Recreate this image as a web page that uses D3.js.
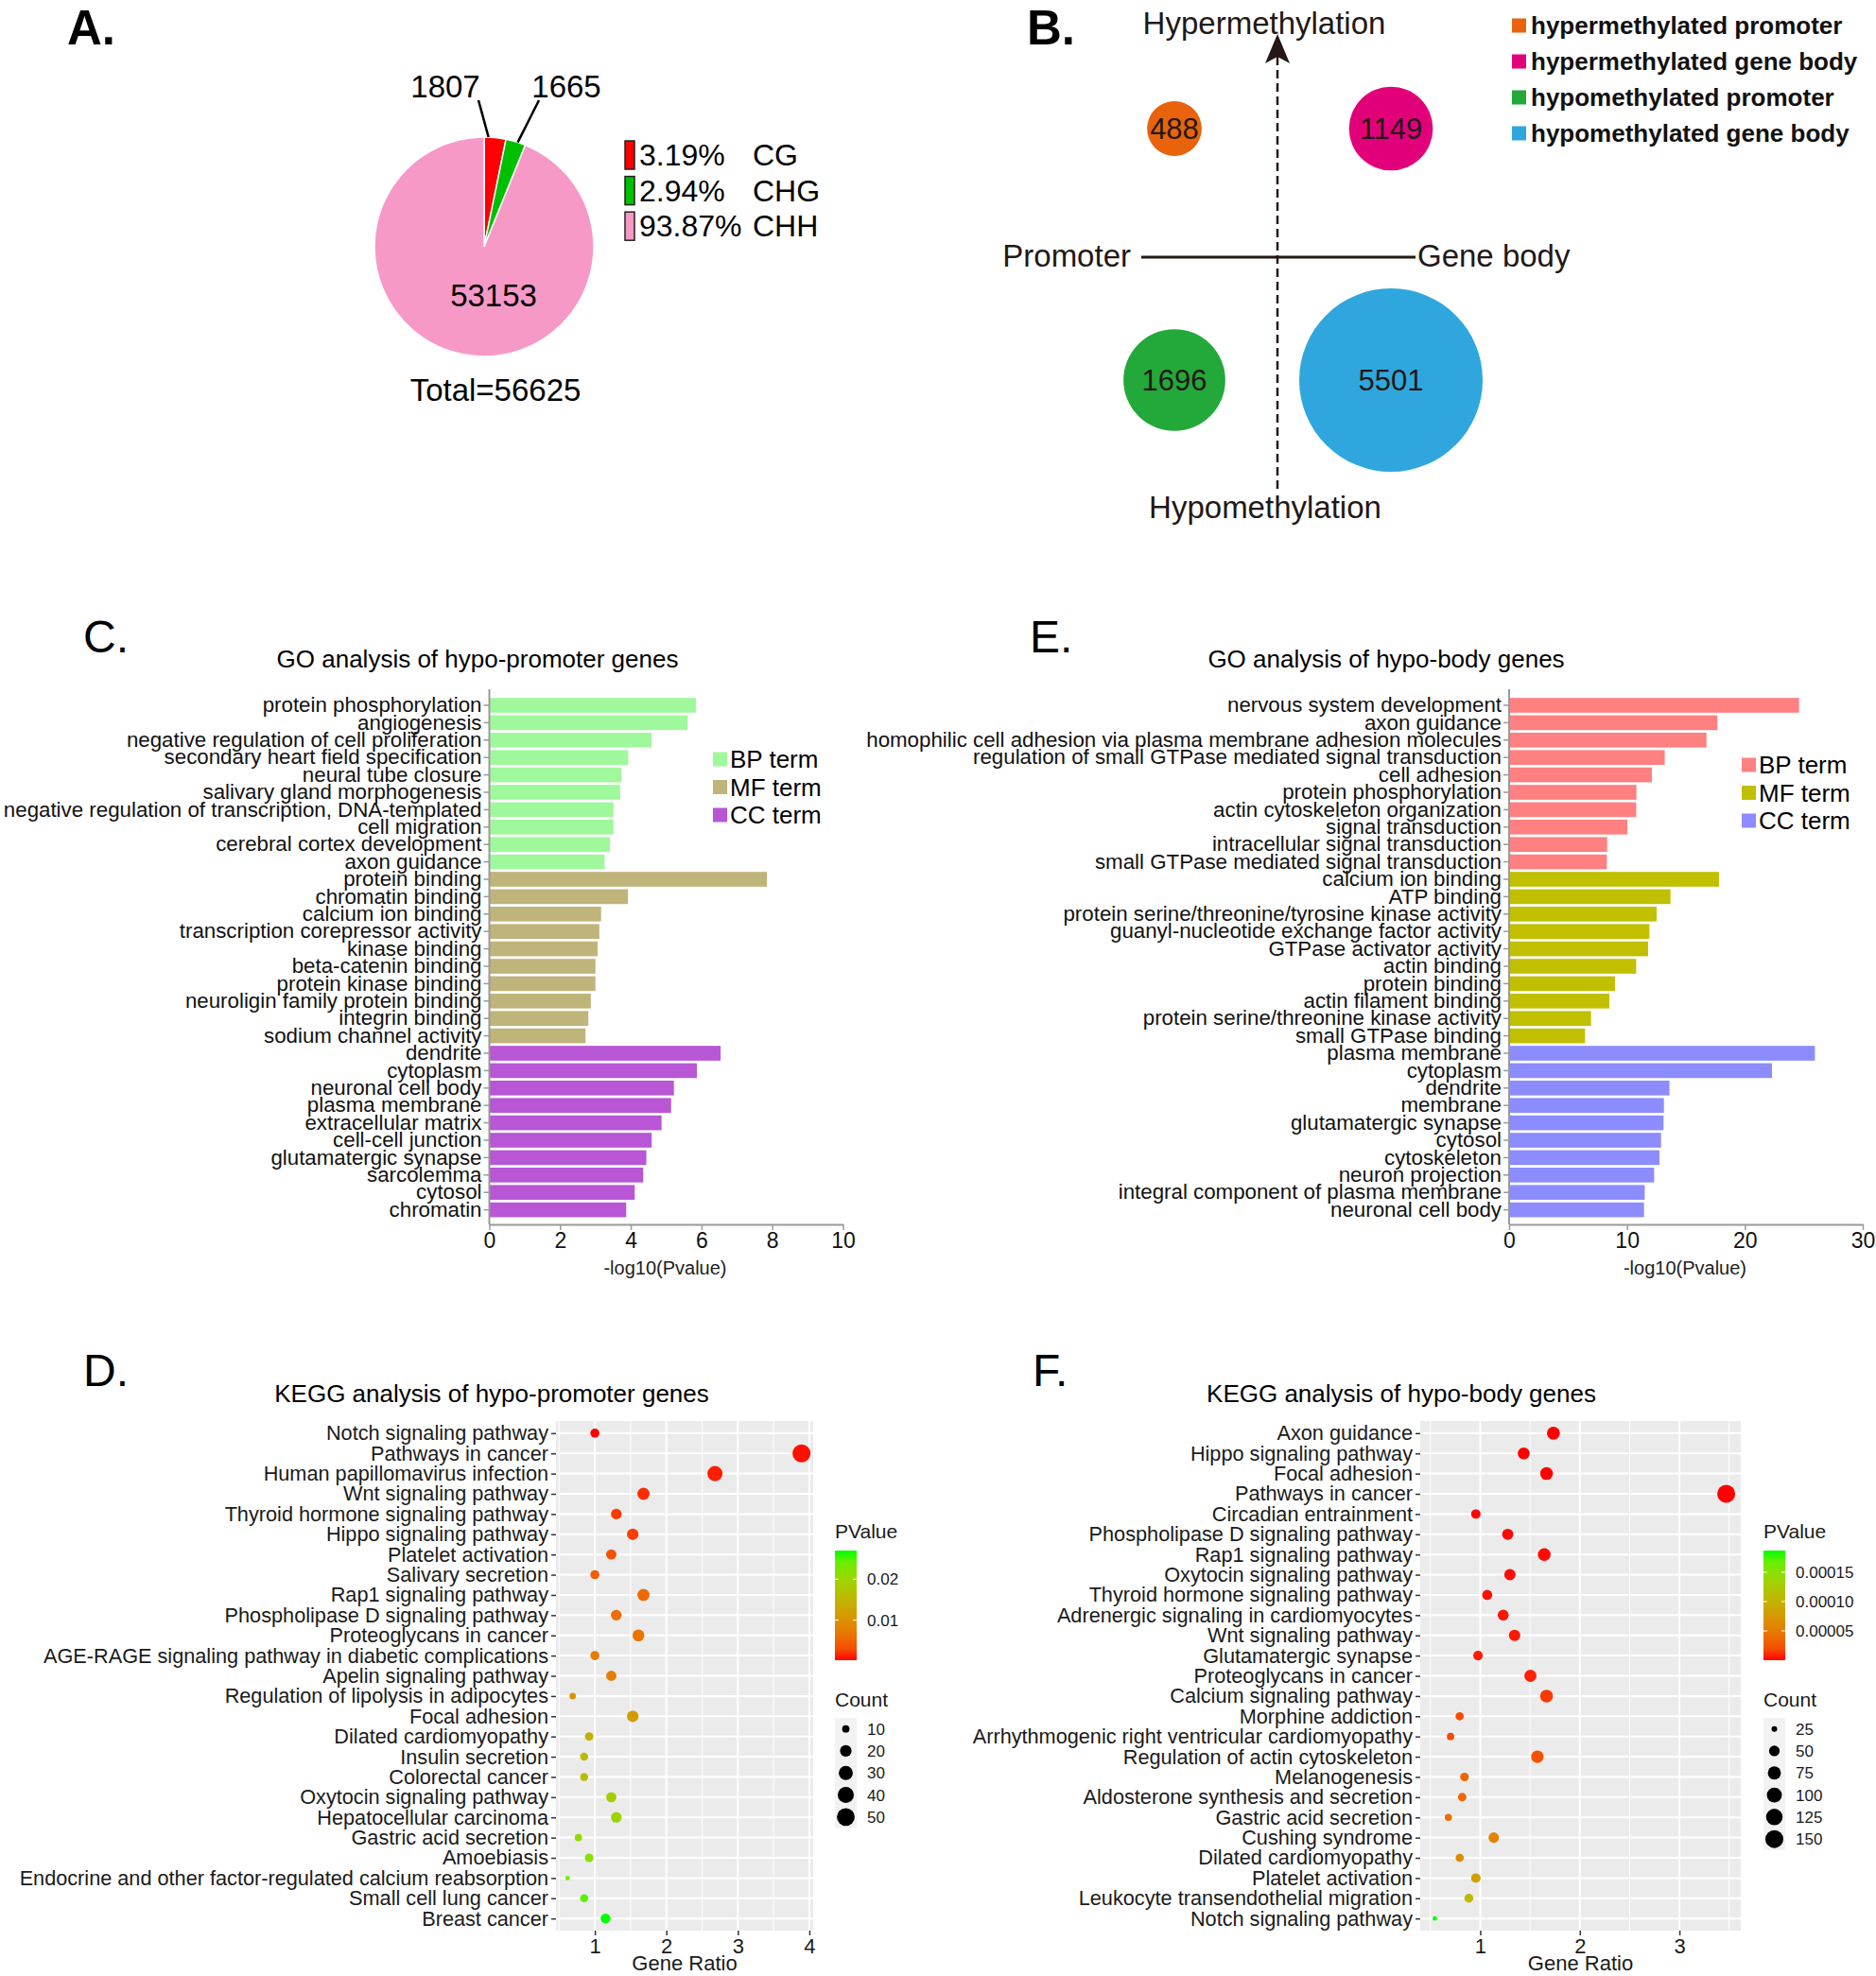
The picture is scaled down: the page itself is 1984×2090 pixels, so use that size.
<!DOCTYPE html>
<html>
<head>
<meta charset="utf-8">
<script src="https://cdn.jsdelivr.net/npm/d3@7"></script>
<style>
  body { margin: 0; background: #fff; }
</style>
</head>
<body>
<div id="figure"></div>
<script>
// ---------- data ----------
// A. methylation context
var contextNames = ["CG", "CHG", "CHH"];
var contextCounts = [1807, 1665, 53153];
var contextPercents = ["3.19%", "2.94%", "93.87%"];
var contextTotal = 56625;

// B. differentially methylated regions
var dmrNames = ["hypermethylated promoter", "hypermethylated gene body", "hypomethylated promoter", "hypomethylated gene body"];
var dmrRegion = ["Promoter", "Gene body", "Promoter", "Gene body"];
var dmrDirection = ["Hyper", "Hyper", "Hypo", "Hypo"];
var dmrCounts = [488, 1149, 1696, 5501];

// C. GO hypo-promoter
var goPromoterTerms = ["protein phosphorylation", "angiogenesis", "negative regulation of cell proliferation",
  "secondary heart field specification", "neural tube closure", "salivary gland morphogenesis",
  "negative regulation of transcription, DNA-templated", "cell migration", "cerebral cortex development",
  "axon guidance", "protein binding", "chromatin binding", "calcium ion binding",
  "transcription corepressor activity", "kinase binding", "beta-catenin binding", "protein kinase binding",
  "neuroligin family protein binding", "integrin binding", "sodium channel activity", "dendrite",
  "cytoplasm", "neuronal cell body", "plasma membrane", "extracellular matrix", "cell-cell junction",
  "glutamatergic synapse", "sarcolemma", "cytosol", "chromatin"];
var goPromoterValues = [5.84, 5.61, 4.59, 3.93, 3.73, 3.70, 3.51, 3.51, 3.41, 3.26,
  7.85, 3.92, 3.16, 3.11, 3.06, 3.00, 3.00, 2.87, 2.80, 2.72,
  6.54, 5.87, 5.22, 5.14, 4.87, 4.59, 4.44, 4.35, 4.11, 3.87];
var goPromoterCats = ["BP", "BP", "BP", "BP", "BP", "BP", "BP", "BP", "BP", "BP",
  "MF", "MF", "MF", "MF", "MF", "MF", "MF", "MF", "MF", "MF",
  "CC", "CC", "CC", "CC", "CC", "CC", "CC", "CC", "CC", "CC"];

// E. GO hypo-body
var goBodyTerms = ["nervous system development", "axon guidance",
  "homophilic cell adhesion via plasma membrane adhesion molecules",
  "regulation of small GTPase mediated signal transduction", "cell adhesion", "protein phosphorylation",
  "actin cytoskeleton organization", "signal transduction", "intracellular signal transduction",
  "small GTPase mediated signal transduction", "calcium ion binding", "ATP binding",
  "protein serine/threonine/tyrosine kinase activity", "guanyl-nucleotide exchange factor activity",
  "GTPase activator activity", "actin binding", "protein binding", "actin filament binding",
  "protein serine/threonine kinase activity", "small GTPase binding", "plasma membrane", "cytoplasm",
  "dendrite", "membrane", "glutamatergic synapse", "cytosol", "cytoskeleton", "neuron projection",
  "integral component of plasma membrane", "neuronal cell body"];
var goBodyValues = [24.6, 17.67, 16.74, 13.2, 12.11, 10.8, 10.78, 10.03, 8.32, 8.29,
  17.8, 13.69, 12.51, 11.9, 11.79, 10.78, 8.98, 8.5, 6.95, 6.44,
  25.94, 22.3, 13.6, 13.13, 13.1, 12.89, 12.75, 12.3, 11.5, 11.44];
var goBodyCats = goPromoterCats.slice();

var goLegendLabels = ["BP term", "MF term", "CC term"];

// D. KEGG hypo-promoter
var keggPromoterTerms = ["Notch signaling pathway", "Pathways in cancer", "Human papillomavirus infection",
  "Wnt signaling pathway", "Thyroid hormone signaling pathway", "Hippo signaling pathway",
  "Platelet activation", "Salivary secretion", "Rap1 signaling pathway", "Phospholipase D signaling pathway",
  "Proteoglycans in cancer", "AGE-RAGE signaling pathway in diabetic complications", "Apelin signaling pathway",
  "Regulation of lipolysis in adipocytes", "Focal adhesion", "Dilated cardiomyopathy", "Insulin secretion",
  "Colorectal cancer", "Oxytocin signaling pathway", "Hepatocellular carcinoma", "Gastric acid secretion",
  "Amoebiasis", "Endocrine and other factor-regulated calcium reabsorption", "Small cell lung cancer",
  "Breast cancer"];
var keggPromoterRatio = [1.0, 3.89, 2.68, 1.68, 1.30, 1.53, 1.23, 1.0, 1.68, 1.30,
  1.61, 1.0, 1.23, 0.69, 1.53, 0.92, 0.85, 0.85, 1.23, 1.30, 0.77, 0.92, 0.62, 0.85, 1.15];
var keggPromoterCount = [13, 51, 35, 22, 17, 20, 16, 13, 22, 17,
  21, 13, 16, 9, 20, 12, 11, 11, 16, 17, 10, 12, 8, 11, 15];
var keggPromoterP = [0.0002, 0.0004, 0.0007, 0.0012, 0.0019, 0.0022, 0.0034, 0.0044, 0.0055, 0.0058,
  0.0066, 0.0072, 0.0076, 0.0102, 0.0112, 0.0140, 0.0158, 0.0162, 0.0188, 0.0198,
  0.0210, 0.0220, 0.0232, 0.0248, 0.0270];
var keggPromoterSizeBreaks = [10, 20, 30, 40, 50];
var keggPromoterPBreaks = [0.01, 0.02];
var keggPromoterPLabels = ["0.01", "0.02"];

// F. KEGG hypo-body
var keggBodyTerms = ["Axon guidance", "Hippo signaling pathway", "Focal adhesion", "Pathways in cancer",
  "Circadian entrainment", "Phospholipase D signaling pathway", "Rap1 signaling pathway",
  "Oxytocin signaling pathway", "Thyroid hormone signaling pathway", "Adrenergic signaling in cardiomyocytes",
  "Wnt signaling pathway", "Glutamatergic synapse", "Proteoglycans in cancer", "Calcium signaling pathway",
  "Morphine addiction", "Arrhythmogenic right ventricular cardiomyopathy", "Regulation of actin cytoskeleton",
  "Melanogenesis", "Aldosterone synthesis and secretion", "Gastric acid secretion", "Cushing syndrome",
  "Dilated cardiomyopathy", "Platelet activation", "Leukocyte transendothelial migration",
  "Notch signaling pathway"];
var keggBodyRatio = [1.735, 1.437, 1.666, 3.47, 0.956, 1.276, 1.643, 1.298, 1.07, 1.231,
  1.345, 0.978, 1.504, 1.666, 0.794, 0.702, 1.574, 0.842, 0.819, 0.68, 1.136, 0.794, 0.956, 0.886, 0.544];
var keggBodyCount = [75, 62, 72, 150, 41, 55, 71, 56, 46, 53,
  58, 42, 65, 72, 34, 30, 68, 36, 35, 29, 49, 34, 41, 38, 24];
var keggBodyP = [1e-9, 2e-8, 5e-8, 1e-7, 3e-7, 5e-7, 8e-7, 1e-6, 1.5e-6, 2e-6,
  2.5e-6, 3e-6, 4e-6, 1.1e-5, 1.9e-5, 2.0e-5, 2.2e-5, 3.4e-5, 3.7e-5, 4.1e-5,
  5.6e-5, 6.2e-5, 7.9e-5, 1.08e-4, 1.87e-4];
var keggBodySizeBreaks = [25, 50, 75, 100, 125, 150];
var keggBodyPBreaks = [0.00005, 0.0001, 0.00015];
var keggBodyPLabels = ["0.00005", "0.00010", "0.00015"];

// ---------- setup ----------
var font = '"Liberation Sans", Arial, Helvetica, sans-serif';
var ink = "#231815";

var svg = d3.select("#figure")
  .append("svg")
  .attr("width", 1984)
  .attr("height", 2090)
  .style("font-family", font);

svg.append("rect").attr("width", 1984).attr("height", 2090).attr("fill", "#fff");

function addText(x, y, txt, size, opts) {
  opts = opts || {};
  return svg.append("text")
    .attr("x", x)
    .attr("y", y)
    .attr("dy", "0.35em")
    .attr("font-size", size)
    .attr("font-weight", opts.bold ? "bold" : "normal")
    .attr("text-anchor", opts.anchor || "start")
    .attr("fill", opts.fill || "#000")
    .text(txt);
}

// panel letters
addText(71, 29, "A.", 51, {bold: true});
addText(1086, 29, "B.", 51, {bold: true});
addText(88, 673, "C.", 48);
addText(1089, 673, "E.", 48);
addText(88, 1449, "D.", 48);
addText(1092, 1449, "F.", 48);

// ---------- A: pie ----------
var contextColors = ["#ff0000", "#00bf00", "#f799c6"];
var pieCx = 512, pieCy = 261, pieR = 116;
var pieGroup = svg.append("g").attr("transform", `translate(${pieCx},${pieCy})`);
var pie = d3.pie().sort(null).value(d => d);
var arc = d3.arc().innerRadius(0).outerRadius(pieR);
var pieData = pie(contextCounts);

pieGroup.selectAll("path")
  .data(pieData)
  .enter()
  .append("path")
  .attr("d", arc)
  .attr("fill", (d, i) => contextColors[i])
  .attr("stroke", "#fff")
  .attr("stroke-width", 1.5);

// leader lines for the two small slices
var leaderEnds = [[-6, -155], [58, -155]];
var leaderLabelPos = [[-41, -170], [87, -170]];
pieData.slice(0, 2).forEach(function(d, i) {
  var a = d.startAngle + (d.endAngle - d.startAngle) * (i === 0 ? 0.2 : 0.6);
  pieGroup.append("line")
    .attr("x1", Math.sin(a) * pieR)
    .attr("y1", -Math.cos(a) * pieR)
    .attr("x2", leaderEnds[i][0])
    .attr("y2", leaderEnds[i][1])
    .attr("stroke", "#000")
    .attr("stroke-width", 2.5);
  pieGroup.append("text")
    .attr("x", leaderLabelPos[i][0])
    .attr("y", leaderLabelPos[i][1])
    .attr("dy", "0.35em")
    .attr("text-anchor", "middle")
    .attr("font-size", 33)
    .text(contextCounts[i]);
});
pieGroup.append("text")
  .attr("x", 10).attr("y", 51).attr("dy", "0.35em")
  .attr("text-anchor", "middle").attr("font-size", 33)
  .text(contextCounts[2]);
addText(524, 412, "Total=" + contextTotal, 33, {anchor: "middle"});

contextNames.forEach(function(n, i) {
  var cy = 164 + i * 37.6;
  svg.append("rect")
    .attr("x", 661).attr("y", cy - 15).attr("width", 10).attr("height", 30)
    .attr("fill", contextColors[i]).attr("stroke", "#222").attr("stroke-width", 1.5);
  addText(676, cy, contextPercents[i], 32);
  addText(796, cy, n, 32);
});

// ---------- B: bubble quadrant ----------
var dmrColors = ["#e9630c", "#e2007a", "#23a83a", "#2fa7de"];
var bx = d3.scalePoint().domain(["Promoter", "Gene body"]).range([1242, 1471]);
var by = d3.scalePoint().domain(["Hyper", "Hypo"]).range([136, 402]);
var br = d3.scaleSqrt().domain([0, d3.max(dmrCounts)]).range([0, 97]);

// axes of the quadrant
svg.append("line")
  .attr("x1", 1207).attr("x2", 1497).attr("y1", 272).attr("y2", 272)
  .attr("stroke", ink).attr("stroke-width", 3);
svg.append("line")
  .attr("x1", 1351).attr("x2", 1351).attr("y1", 517).attr("y2", 58)
  .attr("stroke", ink).attr("stroke-width", 2.5).attr("stroke-dasharray", "9,5");
svg.append("path")
  .attr("d", "M1351,36 L1364,67 L1351,60 L1338,67 Z")
  .attr("fill", ink);

svg.selectAll("circle.dmr")
  .data(dmrCounts)
  .enter()
  .append("circle")
  .attr("class", "dmr")
  .attr("cx", (d, i) => bx(dmrRegion[i]))
  .attr("cy", (d, i) => by(dmrDirection[i]))
  .attr("r", d => br(d))
  .attr("fill", (d, i) => dmrColors[i]);

svg.selectAll("text.dmr")
  .data(dmrCounts)
  .enter()
  .append("text")
  .attr("class", "dmr")
  .attr("x", (d, i) => bx(dmrRegion[i]))
  .attr("y", (d, i) => by(dmrDirection[i]))
  .attr("dy", "0.35em")
  .attr("text-anchor", "middle")
  .attr("font-size", 31)
  .attr("fill", ink)
  .text(d => d);

addText(1337, 24, "Hypermethylation", 33, {anchor: "middle", fill: ink});
addText(1338, 536, "Hypomethylation", 33, {anchor: "middle", fill: ink});
addText(1196, 270, "Promoter", 33, {anchor: "end", fill: ink});
addText(1499, 270, "Gene body", 33, {fill: ink});

dmrNames.forEach(function(n, i) {
  var cy = 27 + i * 38;
  svg.append("rect")
    .attr("x", 1599).attr("y", cy - 7.5).attr("width", 15).attr("height", 15)
    .attr("fill", dmrColors[i]);
  addText(1619, cy, n, 26, {bold: true, fill: "#111"});
});

// ---------- C / E: GO bar charts ----------
function drawGo(p) {
  var x = d3.scaleLinear().domain(p.domain).range([p.left, p.right]);
  var y = d3.scaleBand().domain(d3.range(p.terms.length)).range([735.4, 1290.2]).padding(0.15);
  var g = svg.append("g");

  g.selectAll("rect.bar")
    .data(p.values)
    .enter()
    .append("rect")
    .attr("class", "bar")
    .attr("x", x(0))
    .attr("y", (d, i) => y(i))
    .attr("width", d => x(d) - x(0))
    .attr("height", y.bandwidth())
    .attr("fill", (d, i) => p.colors[p.cats[i]]);

  var yAxis = g.append("g")
    .attr("transform", `translate(${p.left},0)`)
    .call(d3.axisLeft(y).tickSize(6).tickPadding(2).tickSizeOuter(0).tickFormat(i => p.terms[i]));
  yAxis.select(".domain").remove();
  yAxis.selectAll("line").attr("stroke", "#9a9a9a").attr("stroke-width", 1.5);
  yAxis.selectAll("text").attr("font-size", 22.3).attr("font-family", font).attr("fill", "#111");

  g.append("line")
    .attr("x1", p.left).attr("x2", p.left).attr("y1", 729).attr("y2", 1295)
    .attr("stroke", "#9a9a9a").attr("stroke-width", 2);

  var xAxis = g.append("g")
    .attr("transform", "translate(0,1295)")
    .call(d3.axisBottom(x).tickValues(p.ticks).tickSize(6).tickSizeOuter(0));
  xAxis.select(".domain").attr("stroke", "#9a9a9a").attr("stroke-width", 2);
  xAxis.selectAll("line").attr("stroke", "#9a9a9a").attr("stroke-width", 1.5);
  xAxis.selectAll("text").attr("font-size", 23).attr("font-family", font).attr("fill", "#111");

  addText((p.left + p.right) / 2 - 1, 1341, "-log10(Pvalue)", 20, {anchor: "middle", fill: "#222"});
  addText(p.titleX, 697, p.title, 26, {anchor: "middle"});

  goLegendLabels.forEach(function(lbl, i) {
    var cy = p.legendY + i * 29.5;
    svg.append("rect")
      .attr("x", p.legendX).attr("y", cy - 7.5).attr("width", 15).attr("height", 15)
      .attr("fill", p.colors[["BP", "MF", "CC"][i]]);
    addText(p.legendX + 18, cy, lbl, 26);
  });
}

drawGo({
  terms: goPromoterTerms, values: goPromoterValues, cats: goPromoterCats,
  colors: {BP: "#a0f89c", MF: "#bfb47a", CC: "#b856d6"},
  domain: [0, 10], ticks: [0, 2, 4, 6, 8, 10], left: 517.5, right: 891.5,
  title: "GO analysis of hypo-promoter genes", titleX: 505,
  legendX: 754, legendY: 803
});

drawGo({
  terms: goBodyTerms, values: goBodyValues, cats: goBodyCats,
  colors: {BP: "#ff8080", MF: "#c0c000", CC: "#8c8cff"},
  domain: [0, 30], ticks: [0, 10, 20, 30], left: 1596, right: 1970,
  title: "GO analysis of hypo-body genes", titleX: 1466,
  legendX: 1842, legendY: 809
});

// ---------- D / F: KEGG dot plots ----------
function drawKegg(p) {
  var top = 1503, bottom = 2042;
  var ext = d3.extent(p.ratio);
  var pad = (ext[1] - ext[0]) * 0.05;
  var x = d3.scaleLinear().domain([ext[0] - pad, ext[1] + pad]).range([p.left, p.right]);
  var y = d3.scalePoint().domain(d3.range(p.terms.length)).range([top, bottom]).padding(0.6);
  var cExt = d3.extent(p.count);
  var size = d3.scaleSqrt().domain([0, cExt[1] - cExt[0]]).range([2.35, 9.5]);
  var pExt = d3.extent(p.pval);
  var color = d3.scaleLinear().domain(pExt).range(["#ff0000", "#00ff00"]).interpolate(d3.interpolateLab);

  var g = svg.append("g");
  g.append("rect")
    .attr("x", p.left).attr("y", top)
    .attr("width", p.right - p.left).attr("height", bottom - top)
    .attr("fill", "#ebebeb");

  var dom = x.domain();
  var major = x.ticks(4);
  var minor = d3.range(Math.floor(dom[0]) + 0.5, dom[1], 1).filter(v => v > dom[0]);

  g.selectAll("line.minor")
    .data(minor).enter().append("line")
    .attr("x1", d => x(d)).attr("x2", d => x(d))
    .attr("y1", top).attr("y2", bottom)
    .attr("stroke", "#fff").attr("stroke-width", 1);
  g.selectAll("line.majorx")
    .data(major).enter().append("line")
    .attr("x1", d => x(d)).attr("x2", d => x(d))
    .attr("y1", top).attr("y2", bottom)
    .attr("stroke", "#fff").attr("stroke-width", 2);
  g.selectAll("line.majory")
    .data(p.terms).enter().append("line")
    .attr("x1", p.left).attr("x2", p.right)
    .attr("y1", (d, i) => y(i)).attr("y2", (d, i) => y(i))
    .attr("stroke", "#fff").attr("stroke-width", 2);

  g.selectAll("circle.dot")
    .data(p.ratio).enter().append("circle")
    .attr("class", "dot")
    .attr("cx", d => x(d))
    .attr("cy", (d, i) => y(i))
    .attr("r", (d, i) => size(p.count[i] - cExt[0]))
    .attr("fill", (d, i) => color(p.pval[i]));

  var yAxis = g.append("g")
    .attr("transform", `translate(${p.left},0)`)
    .call(d3.axisLeft(y).tickSize(5).tickPadding(3).tickSizeOuter(0).tickFormat(i => p.terms[i]));
  yAxis.select(".domain").remove();
  yAxis.selectAll("line").attr("stroke", "#333").attr("stroke-width", 1.5);
  yAxis.selectAll("text").attr("font-size", 21.7).attr("font-family", font).attr("fill", "#1a1a1a");

  var xAxis = g.append("g")
    .attr("transform", `translate(0,${bottom})`)
    .call(d3.axisBottom(x).tickValues(major).tickSize(5).tickPadding(3).tickFormat(d3.format("d")));
  xAxis.select(".domain").remove();
  xAxis.selectAll("line").attr("stroke", "#333").attr("stroke-width", 1.5);
  xAxis.selectAll("text").attr("font-size", 22).attr("font-family", font).attr("fill", "#1a1a1a");

  addText((p.left + p.right) / 2, 2076, "Gene Ratio", 22, {anchor: "middle", fill: "#1a1a1a"});
  addText(p.titleX, 1474, p.title, 26, {anchor: "middle"});

  // colour bar legend
  var lx = p.legendX;
  addText(lx, 1620, "PValue", 21, {fill: "#1a1a1a"});
  var gradId = "grad" + p.id;
  var grad = svg.append("defs").append("linearGradient")
    .attr("id", gradId).attr("x1", 0).attr("y1", 1).attr("x2", 0).attr("y2", 0);
  d3.range(0, 1.0001, 0.1).forEach(function(t) {
    grad.append("stop").attr("offset", t).attr("stop-color", d3.interpolateLab("#ff0000", "#00ff00")(t));
  });
  var cbTop = 1640, cbBottom = 1756, cbW = 23;
  svg.append("rect")
    .attr("x", lx).attr("y", cbTop).attr("width", cbW).attr("height", cbBottom - cbTop)
    .attr("fill", `url(#${gradId})`);
  var cb = d3.scaleLinear().domain(pExt).range([cbBottom, cbTop]);
  p.pBreaks.forEach(function(v, i) {
    var yy = cb(v);
    svg.append("line").attr("x1", lx).attr("x2", lx + 4).attr("y1", yy).attr("y2", yy)
      .attr("stroke", "#fff").attr("stroke-width", 1);
    svg.append("line").attr("x1", lx + cbW - 4).attr("x2", lx + cbW).attr("y1", yy).attr("y2", yy)
      .attr("stroke", "#fff").attr("stroke-width", 1);
    addText(lx + 34, yy, p.pLabels[i], 17, {fill: "#1a1a1a"});
  });

  // size legend
  addText(lx, 1798, "Count", 21, {fill: "#1a1a1a"});
  var rowH = 23.3, keyTop = 1817;
  svg.append("rect")
    .attr("x", lx).attr("y", keyTop).attr("width", cbW).attr("height", rowH * p.sizeBreaks.length)
    .attr("fill", "#f2f2f2");
  p.sizeBreaks.forEach(function(v, i) {
    var cy = keyTop + rowH * (i + 0.5);
    svg.append("circle")
      .attr("cx", lx + cbW / 2).attr("cy", cy)
      .attr("r", size(v - cExt[0]))
      .attr("fill", "#000");
    addText(lx + 34, cy, v, 17, {fill: "#1a1a1a"});
  });
}

drawKegg({
  id: "D", terms: keggPromoterTerms, ratio: keggPromoterRatio, count: keggPromoterCount, pval: keggPromoterP,
  left: 588, right: 860, title: "KEGG analysis of hypo-promoter genes", titleX: 520,
  legendX: 883, pBreaks: keggPromoterPBreaks, pLabels: keggPromoterPLabels, sizeBreaks: keggPromoterSizeBreaks
});

drawKegg({
  id: "F", terms: keggBodyTerms, ratio: keggBodyRatio, count: keggBodyCount, pval: keggBodyP,
  left: 1502, right: 1841, title: "KEGG analysis of hypo-body genes", titleX: 1482,
  legendX: 1865, pBreaks: keggBodyPBreaks, pLabels: keggBodyPLabels, sizeBreaks: keggBodySizeBreaks
});
</script>
</body>
</html>
